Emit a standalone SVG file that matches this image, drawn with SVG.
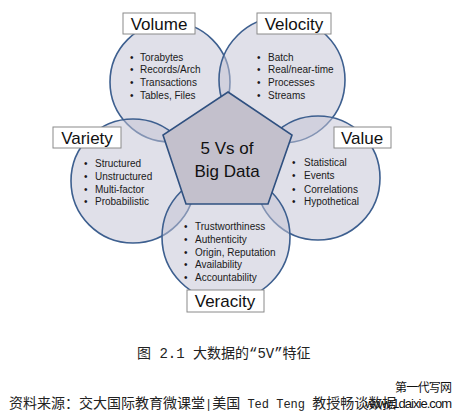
<svg xmlns="http://www.w3.org/2000/svg" width="464" height="418" viewBox="0 0 464 418">
<style>
.c{fill:#c4c4d4;fill-opacity:0.52;stroke:#3d5f8f;stroke-width:1.6}
.lb{fill:#ffffff;stroke:#8a8a8a;stroke-width:1}
.lt{font-family:"Liberation Sans",Arial,sans-serif;font-size:17px;fill:#111;text-anchor:middle}
.b{font-family:"Liberation Sans",Arial,sans-serif;font-size:10px;fill:#1a1a1a}
.ct{font-family:"Liberation Sans",Arial,sans-serif;font-size:17px;fill:#111;text-anchor:middle}
.cap{font-family:"Liberation Mono","Noto Sans CJK SC",monospace;font-size:14px;fill:#222}
.lat{font-size:12px}
.wm{font-family:"Liberation Sans","Noto Sans CJK SC",sans-serif;fill:#111}
</style>
<rect width="464" height="418" fill="#ffffff"/>
<g id="circles">
<circle class="c" cx="170" cy="82" r="60"/>
<circle class="c" cx="282" cy="80" r="63"/>
<circle class="c" cx="133" cy="181" r="62"/>
<circle class="c" cx="318" cy="178" r="62"/>
<circle class="c" cx="226" cy="237" r="64"/>
</g>
<g id="connectors"></g>
<g id="center">
<polygon points="228,92 292,135 268,204 186,204 163,135" fill="#c3c0cc" stroke="#2f5080" stroke-width="1.6"/>
<text class="ct" x="227" y="154">5 Vs of</text>
<text class="ct" x="227" y="177">Big Data</text>
</g>
<g id="volume">
<rect class="lb" x="123" y="13" width="72" height="21"/>
<text class="lt" x="159" y="30">Volume</text>
<g class="b">
<text x="130" y="61">•</text><text x="140" y="61">Torabytes</text>
<text x="130" y="73">•</text><text x="140" y="73">Records/Arch</text>
<text x="130" y="86">•</text><text x="140" y="86">Transactions</text>
<text x="130" y="99">•</text><text x="140" y="99">Tables, Files</text>
</g>
</g>
<g id="velocity">
<rect class="lb" x="257" y="13" width="74" height="21"/>
<text class="lt" x="294" y="30">Velocity</text>
<g class="b">
<text x="257" y="61">•</text><text x="268" y="61">Batch</text>
<text x="257" y="73">•</text><text x="268" y="73">Real/near-time</text>
<text x="257" y="86">•</text><text x="268" y="86">Processes</text>
<text x="257" y="99">•</text><text x="268" y="99">Streams</text>
</g>
</g>
<g id="variety">
<rect class="lb" x="53" y="127" width="68" height="21"/>
<text class="lt" x="87" y="144">Variety</text>
<g class="b">
<text x="84" y="167">•</text><text x="95" y="167">Structured</text>
<text x="84" y="180">•</text><text x="95" y="180">Unstructured</text>
<text x="84" y="193">•</text><text x="95" y="193">Multi-factor</text>
<text x="84" y="205">•</text><text x="95" y="205">Probabilistic</text>
</g>
</g>
<g id="value">
<rect class="lb" x="334" y="127" width="57" height="21"/>
<text class="lt" x="362" y="144">Value</text>
<g class="b">
<text x="292" y="166">•</text><text x="304" y="166">Statistical</text>
<text x="292" y="179">•</text><text x="304" y="179">Events</text>
<text x="292" y="193">•</text><text x="304" y="193">Correlations</text>
<text x="292" y="205">•</text><text x="304" y="205">Hypothetical</text>
</g>
</g>
<g id="veracity">
<rect class="lb" x="187" y="290" width="77" height="22"/>
<text class="lt" x="225" y="307">Veracity</text>
<g class="b">
<text x="184" y="230">•</text><text x="195" y="230">Trustworthiness</text>
<text x="184" y="243">•</text><text x="195" y="243">Authenticity</text>
<text x="184" y="256">•</text><text x="195" y="256">Origin, Reputation</text>
<text x="184" y="268">•</text><text x="195" y="268">Availability</text>
<text x="184" y="281">•</text><text x="195" y="281">Accountability</text>
</g>
</g>
<text class="cap" x="137" y="358">图 2.1 大数据的“5V”特征</text>
<text class="cap" x="9" y="408">资料来源：交大国际教育微课堂<tspan class="lat">|</tspan>美国<tspan class="lat"> Ted Teng </tspan>教授畅谈数据</text>
<text class="wm" x="395" y="392" font-size="12" textLength="57">第一代写网</text>
<text class="wm" x="365" y="408" font-size="13" textLength="87">www.1daixie.com</text>
</svg>
